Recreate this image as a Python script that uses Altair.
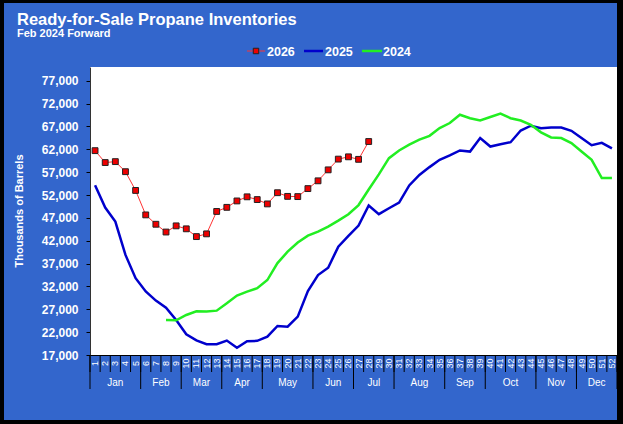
import altair as alt
import pandas as pd

# ---------------- data ----------------
weeks = list(range(1, 53))

inv_2026 = [61700, 59100, 59300, 57100, 53000, 47650, 45600, 43900, 45250, 44600,
            42900, 43500, 48400, 49300, 50700, 51600, 51000, 50050, 52500, 51700,
            51650, 53400, 55100, 57500, 59850, 60350, 59800, 63700]

inv_2025 = [54150, 49250, 46200, 38900, 33800, 30900, 28900, 27350, 24650, 21550,
            20200, 19350, 19350, 20150, 18600, 20000, 20100, 21000, 23350, 23200,
            25400, 31000, 34500, 36100, 40700, 43050, 45300, 49700, 47800, 49100,
            50350, 54100, 56400, 58100, 59700, 60650, 61750, 61500, 64450, 62600,
            63100, 63550, 66100, 67150, 66600, 66750, 66750, 66050, 64450, 62900,
            63400, 62200]

inv_2024_start_week = 8
inv_2024 = [24650, 24600, 25750, 26550, 26500, 26700, 28300, 30000, 30850, 31600,
            33400, 37100, 39600, 41600, 43100, 44000, 45100, 46400, 47800, 49800,
            53200, 56500, 60050, 61750, 63000, 64100, 64950, 66650, 67750, 69550,
            68800, 68300, 69050, 69800, 68800, 68300, 67350, 65700, 64600, 64450,
            63350, 61500, 59700, 55700, 55700]

months = ["Jan", "Feb", "Mar", "Apr", "May", "Jun", "Jul", "Aug", "Sep", "Oct", "Nov", "Dec"]
month_last_week = [5, 9, 13, 17, 22, 26, 30, 35, 39, 44, 48, 52]

y_ticks = [17000, 22000, 27000, 32000, 37000, 42000, 47000, 52000, 57000, 62000, 67000, 72000, 77000]

# ---------------- tables ----------------
df26 = pd.DataFrame({"week": weeks[:len(inv_2026)], "value": inv_2026})
df25 = pd.DataFrame({"week": weeks, "value": inv_2025})
df24 = pd.DataFrame({"week": list(range(inv_2024_start_week, inv_2024_start_week + len(inv_2024))),
                     "value": inv_2024})

week_df = pd.DataFrame({"week": weeks, "label": [str(w) for w in weeks]})
sep_df = pd.DataFrame({"week": [w + 0.5 for w in [0] + weeks]})
m_first = [1] + [w + 1 for w in month_last_week[:-1]]
month_df = pd.DataFrame({
    "month": months,
    "week": [(a + b) / 2 for a, b in zip(m_first, month_last_week)],
})
msep_df = pd.DataFrame({"week": [0.5] + [w + 0.5 for w in month_last_week]})

FONT = "Liberation Sans"
W, H = 527, 288
OX, OY = 90, 67  # plot origin in page pixels

xscale = alt.Scale(domain=[0.5, 52.5], nice=False, zero=False)
yscale = alt.Scale(domain=[17000, 80000], nice=False, zero=False)

X_ENC = alt.X("week:Q", scale=xscale,
              axis=alt.Axis(labels=False, ticks=False, title=None, grid=False,
                            domainColor="black", domainWidth=1))
Y_ENC = alt.Y("value:Q", scale=yscale,
              axis=alt.Axis(values=y_ticks, format=",.0f", grid=False, title=None,
                            labelColor="white", labelFont=FONT, labelFontSize=12,
                            labelFontWeight="bold", labelPadding=8, tickColor="black",
                            tickSize=4, domainColor="#333333", labelFlush=False))

one = pd.DataFrame({"a": [0]})


def px(x):
    return alt.value(x - OX)


def py(y):
    return alt.value(y - OY)


line25 = alt.Chart(df25).mark_line(color="#0000cc", strokeWidth=2.5).encode(x=X_ENC, y=Y_ENC)
line24 = alt.Chart(df24).mark_line(color="#22ee22", strokeWidth=2.5).encode(x=X_ENC, y=Y_ENC)
line26 = alt.Chart(df26).mark_line(color="#ff3333", strokeWidth=1).encode(x=X_ENC, y=Y_ENC)
pts26 = alt.Chart(df26).mark_point(shape="square", filled=True, fill="#ee0000", stroke="#222222",
                                   strokeWidth=1, size=34, opacity=1).encode(x=X_ENC, y=Y_ENC)

# week number cells
week_txt = alt.Chart(week_df).mark_text(angle=270, align="center", baseline="middle",
                                        color="white", font=FONT, fontSize=9).encode(
    x=X_ENC, y=py(363.5), text="label:N")
week_sep = alt.Chart(sep_df).mark_rule(color="black", strokeWidth=1).encode(
    x=X_ENC, y=py(355), y2=py(372))
month_sep = alt.Chart(msep_df).mark_rule(color="black", strokeWidth=1).encode(
    x=X_ENC, y=py(355), y2=py(389))
month_txt = alt.Chart(month_df).mark_text(align="center", baseline="middle", color="white",
                                          font=FONT, fontSize=10).encode(
    x=X_ENC, y=py(383), text="month:N")


def text(s, x, y, size, bold=True, angle=0, align="left", baseline="alphabetic"):
    kw = dict(text=s, color="white", font=FONT, fontSize=size,
              fontWeight="bold" if bold else "normal", align=align, baseline=baseline)
    if angle:
        kw["angle"] = angle
    return alt.Chart(one).mark_text(**kw).encode(x=px(x), y=py(y))


title = text("Ready-for-Sale Propane Inventories", 17, 25, 16.5)
subtitle = text("Feb 2024 Forward", 17, 37, 11)
ytitle = text("Thousands of Barrels", 20, 211, 11, angle=270, align="center", baseline="middle")


def legend_line(x1, x2, y, color, width):
    return alt.Chart(one).mark_rule(color=color, strokeWidth=width).encode(
        x=px(x1), x2=px(x2), y=py(y))


leg = [
    legend_line(247, 265, 51, "#ff3333", 1),
    alt.Chart(one).mark_point(shape="square", filled=True, fill="#ee0000", stroke="#222222",
                              strokeWidth=1, size=30, opacity=1).encode(x=px(256), y=py(51)),
    text("2026", 267, 56, 12.5),
    legend_line(304, 323, 51, "#0000cc", 2.5),
    text("2025", 325, 56, 12.5),
    legend_line(362, 382, 51, "#22ee22", 2.5),
    text("2024", 383, 56, 12.5),
]


def frame(x1, x2, y1, y2):
    return alt.Chart(one).mark_rect(color="black").encode(
        x=px(x1), x2=px(x2), y=py(y1), y2=py(y2))


frames = [frame(0, 4, 0, 424), frame(617, 623, 0, 424), frame(0, 623, 0, 3), frame(0, 623, 420, 424)]

chart = alt.layer(
    line25, line24, line26, pts26,
    week_sep, month_sep, week_txt, month_txt,
    title, subtitle, ytitle, *leg, *frames,
).properties(
    width=W, height=H,
    autosize=alt.AutoSizeParams(type="none"),
    padding={"left": OX, "top": OY, "right": 623 - OX - W, "bottom": 424 - OY - H},
    background="#3366cc",
).configure_view(fill="white", strokeWidth=0)

chart.save("out.html", embed_options={"renderer": "svg", "actions": False})
